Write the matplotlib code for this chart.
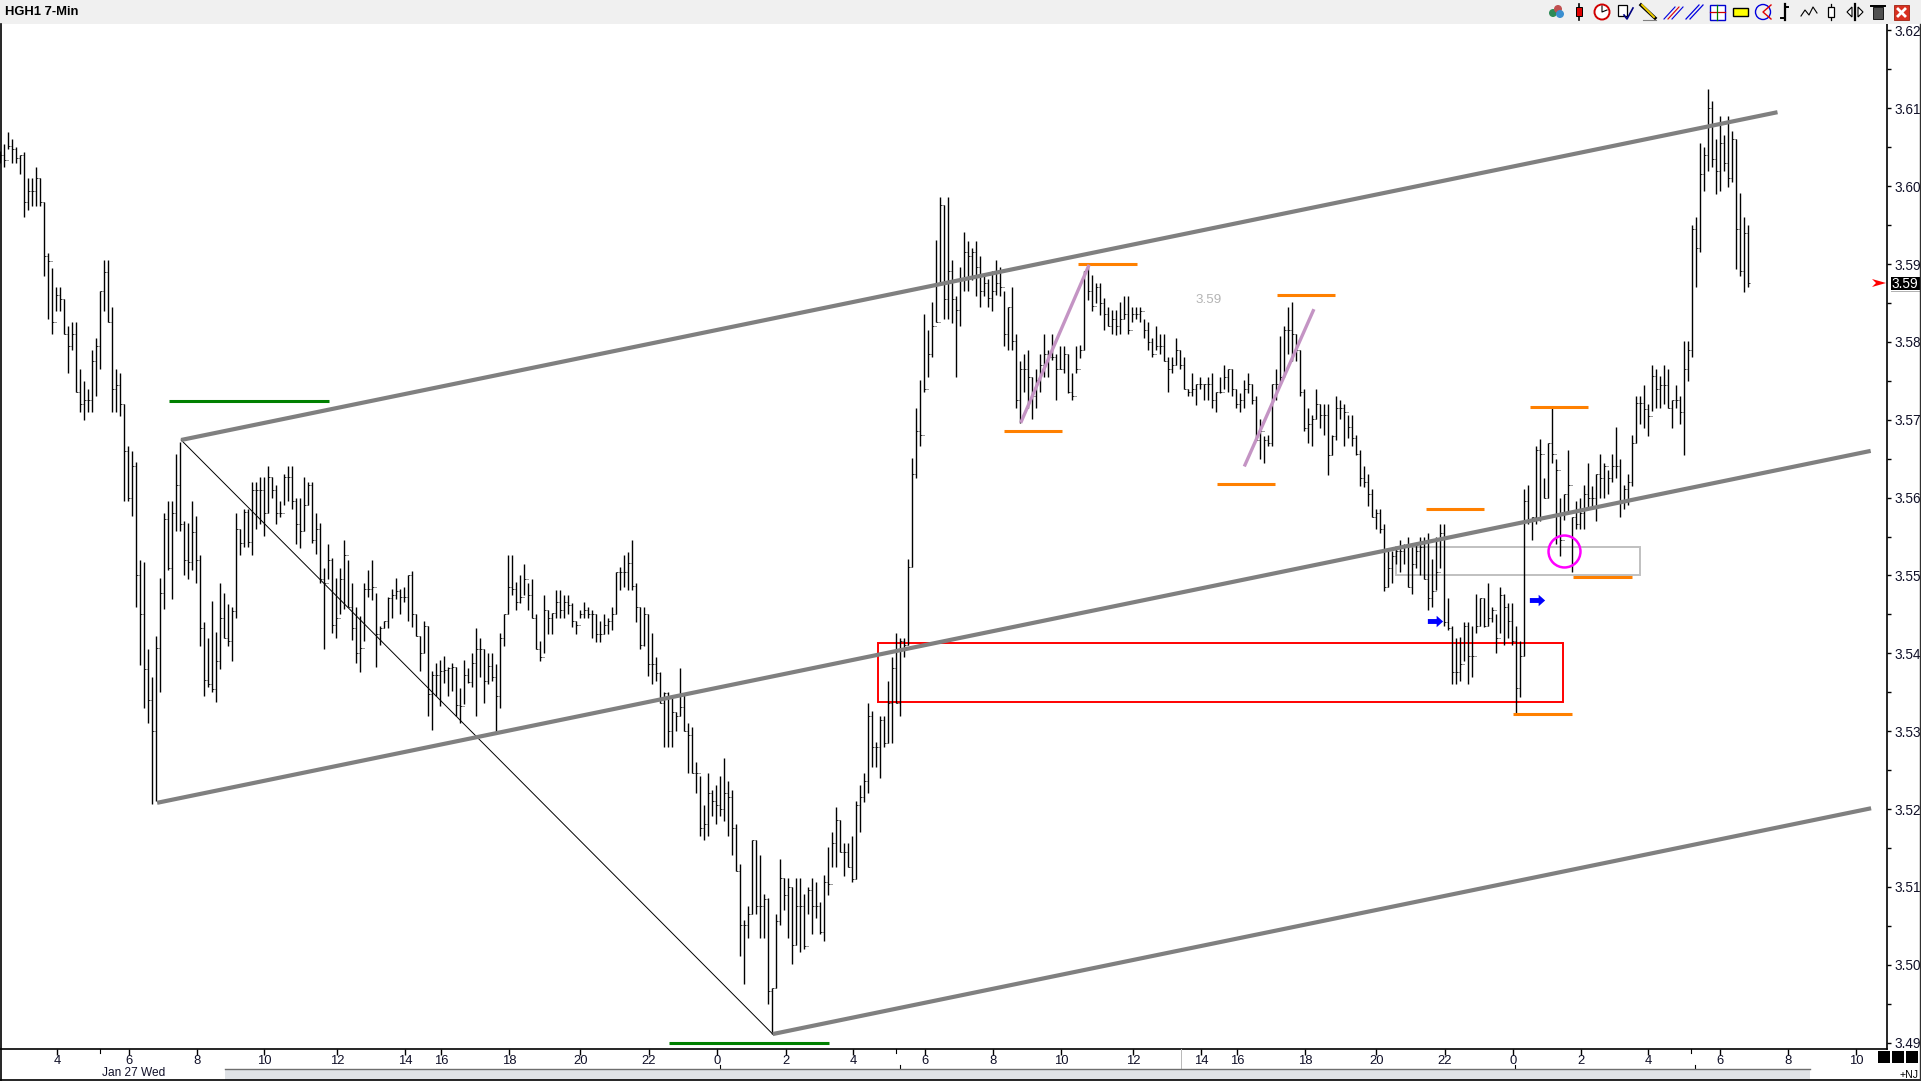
import numpy as np
import matplotlib
matplotlib.use('Agg')
from matplotlib import pyplot as plt
from matplotlib.patches import Rectangle, Circle, Polygon

plt.rcParams['font.family'] = ['Liberation Sans', 'DejaVu Sans']

# 7 minute bars
highs = [
3.6045,3.6054,3.6070,3.6060,3.6050,3.6040,3.6044,3.6010,3.6010,3.6025,3.6010,3.5980,3.5914,3.5895,3.5870,3.5870,3.5855,3.5820,3.5825,3.5825,
3.5765,3.5750,3.5740,3.5790,3.5805,3.5865,3.5905,3.5905,3.5845,3.5765,3.5760,3.5720,3.5666,3.5660,3.5646,3.5520,3.5517,3.5406,3.5370,3.5422,
3.5497,3.5580,3.5596,3.5596,3.5656,3.5672,3.5570,3.5568,3.5596,3.5576,3.5526,3.5440,3.5420,3.5467,3.5428,3.5490,3.5477,3.5463,3.5460,3.5580,
3.5560,3.5585,3.5586,3.5620,3.5620,3.5626,3.5626,3.5640,3.5626,3.5616,3.5596,3.5630,3.5641,3.5641,3.5600,3.5600,3.5626,3.5620,3.5620,3.5580,
3.5567,3.5510,3.5540,3.5523,3.5497,3.5510,3.5546,3.5520,3.5490,3.5460,3.5448,3.5490,3.5507,3.5520,3.5477,3.5435,3.5442,3.5472,3.5482,3.5497,
3.5483,3.5485,3.5501,3.5506,3.5451,3.5422,3.5441,3.5435,3.5377,3.5387,3.5391,3.5397,3.5382,3.5387,3.5382,3.5356,3.5391,3.5381,3.5401,3.5432,
3.5420,3.5405,3.5400,3.5400,3.5386,3.5426,3.5450,3.5526,3.5526,3.5492,3.5501,3.5515,3.5490,3.5495,3.5450,3.5416,3.5475,3.5456,3.5452,3.5481,
3.5481,3.5475,3.5475,3.5465,3.5441,3.5456,3.5466,3.5460,3.5456,3.5450,3.5441,3.5450,3.5446,3.5460,3.5505,3.5511,3.5526,3.5530,3.5546,3.5490,
3.5460,3.5460,3.5450,3.5426,3.5395,3.5376,3.5350,3.5350,3.5342,3.5325,3.5381,3.5346,3.5310,3.5305,3.5260,3.5242,3.5205,3.5246,3.5225,3.5231,
3.5242,3.5266,3.5236,3.5225,3.5181,3.5130,3.5057,3.5075,3.5160,3.5160,3.5141,3.5091,3.5086,3.4970,3.5065,3.5136,3.5111,3.5111,3.5100,3.5111,
3.5111,3.5091,3.5100,3.5111,3.5106,3.5081,3.5115,3.5151,3.5170,3.5202,3.5186,3.5156,3.5156,3.5166,3.5210,3.5231,3.5246,3.5336,3.5326,3.5286,
3.5320,3.5320,3.5365,3.5395,3.5426,3.5420,3.5420,3.5521,
3.5651,3.5715,3.5751,3.5836,3.5815,3.5851,3.5931,3.5986,3.5976,3.5986,3.5905,3.5859,3.5896,3.5941,3.5930,3.5920,3.5930,3.5910,3.5886,3.5881,
3.5891,3.5905,3.5896,3.5865,3.5845,3.5870,3.5810,3.5776,3.5785,3.5790,3.5755,3.5765,3.5785,3.5810,3.5790,3.5810,3.5785,3.5795,3.5795,3.5785,
3.5760,3.5795,3.5796,3.5891,3.5900,3.5886,3.5875,3.5875,3.5856,3.5845,3.5841,3.5841,3.5851,3.5859,3.5859,3.5845,3.5845,3.5845,3.5830,3.5825,
3.5805,3.5820,3.5810,3.5810,3.5780,3.5780,3.5805,3.5790,3.5780,3.5740,3.5760,3.5746,3.5755,3.5746,3.5755,3.5760,3.5736,3.5755,3.5770,3.5765,
3.5765,3.5740,3.5734,3.5751,3.5760,3.5746,3.5730,3.5701,3.5679,3.5680,3.5746,3.5765,3.5807,3.5820,3.5845,3.5851,3.5810,3.5790,3.5740,3.5715,
3.5706,3.5740,3.5720,3.5720,3.5720,3.5680,3.5730,3.5725,3.5720,3.5706,3.5706,3.5680,
3.5661,3.5641,3.5630,3.5611,3.5585,3.5585,3.5566,3.5531,3.5531,3.5536,3.5546,3.5541,3.5550,3.5536,3.5541,3.5550,3.5550,3.5555,3.5521,3.5550,
3.5566,3.5566,3.5471,3.5435,3.5420,3.5421,3.5440,3.5440,3.5435,3.5476,3.5471,3.5471,3.5490,3.5460,3.5451,3.5485,3.5476,3.5465,3.5465,3.5435,
3.5416,3.5611,3.5616,3.5575,3.5666,3.5675,3.5625,3.5670,3.5715,3.5650,3.5600,3.5605,3.5661,3.5575,3.5595,3.5600,3.5616,3.5645,3.5615,3.5630,
3.5656,3.5645,3.5635,3.5656,3.5691,3.5650,3.5616,3.5630,3.5680,3.5730,
3.5730,3.5745,3.5720,3.5770,3.5765,3.5756,3.5770,3.5765,3.5725,3.5745,3.5730,3.5801,3.5801,3.5950,3.5960,3.6055,3.6050,3.6125,3.6110,3.6060,
3.6090,3.6066,3.6090,3.6071,3.6060,3.5991,3.5960,3.5950]
lows = [
3.6030,3.6025,3.6048,3.6030,3.6030,3.6015,3.5960,3.5969,3.5975,3.5975,3.5975,3.5885,3.5830,3.5810,3.5840,3.5840,3.5810,3.5760,3.5790,3.5735,
3.5710,3.5700,3.5710,3.5710,3.5730,3.5765,3.5840,3.5825,3.5710,3.5710,3.5705,3.5595,3.5595,3.5576,3.5460,3.5385,3.5330,3.5310,3.5207,3.5210,
3.5350,3.5457,3.5507,3.5470,3.5557,3.5557,3.5500,3.5495,3.5507,3.5490,3.5410,3.5345,3.5357,3.5350,3.5338,3.5380,3.5420,3.5410,3.5390,3.5446,
3.5526,3.5537,3.5537,3.5526,3.5560,3.5566,3.5551,3.5580,3.5600,3.5566,3.5575,3.5590,3.5595,3.5585,3.5540,3.5535,3.5557,3.5590,3.5542,3.5528,
3.5490,3.5406,3.5495,3.5426,3.5420,3.5450,3.5457,3.5460,3.5417,3.5388,3.5376,3.5416,3.5472,3.5469,3.5382,3.5411,3.5432,3.5432,3.5445,3.5470,
3.5450,3.5466,3.5441,3.5434,3.5422,3.5377,3.5401,3.5320,3.5301,3.5345,3.5332,3.5362,3.5345,3.5352,3.5320,3.5311,3.5335,3.5362,3.5357,3.5320,
3.5370,3.5336,3.5361,3.5365,3.5299,3.5330,3.5410,3.5450,3.5475,3.5455,3.5465,3.5475,3.5455,3.5445,3.5405,3.5390,3.5400,3.5425,3.5425,3.5445,
3.5445,3.5445,3.5450,3.5434,3.5425,3.5446,3.5446,3.5446,3.5420,3.5414,3.5414,3.5425,3.5425,3.5430,3.5450,3.5481,3.5485,3.5481,3.5481,3.5440,
3.5405,3.5410,3.5371,3.5360,3.5365,3.5336,3.5280,3.5280,3.5280,3.5300,3.5320,3.5300,3.5246,3.5246,3.5221,3.5165,3.5160,3.5165,3.5191,3.5181,
3.5191,3.5185,3.5165,3.5141,3.5120,3.5011,3.4975,3.5035,3.5065,3.5065,3.5035,3.5035,3.4950,3.4911,3.4970,3.5051,3.5070,3.5035,3.5001,3.5026,
3.5017,3.5020,3.5065,3.5040,3.5060,3.5040,3.5030,3.5090,3.5125,3.5125,3.5145,3.5114,3.5125,3.5106,3.5110,3.5170,3.5209,3.5220,3.5254,3.5254,
3.5240,3.5280,3.5285,3.5285,3.5336,3.5320,3.5395,3.5411,
3.5511,3.5625,3.5666,3.5735,3.5755,3.5780,3.5825,3.5875,3.5829,3.5829,3.5824,3.5755,3.5820,3.5865,3.5865,3.5880,3.5859,3.5845,3.5859,3.5845,
3.5840,3.5860,3.5859,3.5795,3.5790,3.5790,3.5715,3.5696,3.5736,3.5715,3.5701,3.5715,3.5736,3.5755,3.5755,3.5777,3.5725,3.5765,3.5760,3.5734,
3.5725,3.5760,3.5779,3.5790,3.5854,3.5840,3.5850,3.5835,3.5815,3.5820,3.5810,3.5809,3.5810,3.5830,3.5810,3.5825,3.5830,3.5825,3.5805,3.5790,
3.5780,3.5790,3.5785,3.5775,3.5735,3.5760,3.5770,3.5765,3.5740,3.5730,3.5730,3.5719,3.5740,3.5725,3.5725,3.5715,3.5710,3.5734,3.5740,3.5736,
3.5730,3.5715,3.5710,3.5715,3.5734,3.5720,3.5674,3.5650,3.5645,3.5666,3.5666,3.5725,3.5746,3.5755,3.5785,3.5775,3.5775,3.5730,3.5685,3.5670,
3.5666,3.5701,3.5690,3.5680,3.5629,3.5655,3.5674,3.5701,3.5666,3.5676,3.5666,3.5655,
3.5615,3.5614,3.5589,3.5575,3.5560,3.5555,3.5480,3.5485,3.5490,3.5515,3.5505,3.5515,3.5485,3.5476,3.5510,3.5500,3.5495,3.5456,3.5460,3.5481,
3.5510,3.5435,3.5430,3.5360,3.5360,3.5365,3.5390,3.5360,3.5370,3.5426,3.5435,3.5434,3.5435,3.5440,3.5400,3.5426,3.5411,3.5420,3.5411,3.5321,
3.5344,3.5396,3.5566,3.5545,3.5566,3.5570,3.5600,3.5600,3.5645,3.5541,3.5525,3.5571,3.5580,3.5505,3.5560,3.5560,3.5560,3.5586,3.5586,3.5570,
3.5600,3.5600,3.5605,3.5620,3.5625,3.5575,3.5585,3.5590,3.5615,3.5670,
3.5695,3.5690,3.5679,3.5711,3.5715,3.5715,3.5720,3.5715,3.5690,3.5715,3.5695,3.5655,3.5750,3.5780,3.5870,3.5915,3.5994,3.6020,3.6025,3.5990,
3.5994,3.6020,3.5999,3.6005,3.5894,3.5885,3.5864,3.5870]
closes = [
3.6040,3.6034,3.6052,3.6048,3.6036,3.6040,3.5980,3.5994,3.5994,3.6010,3.5980,3.5910,3.5904,3.5825,3.5860,3.5855,3.5810,3.5795,3.5810,3.5735,
3.5720,3.5725,3.5725,3.5775,3.5795,3.5865,3.5890,3.5825,3.5740,3.5745,3.5720,3.5660,3.5600,3.5640,3.5500,3.5450,3.5380,3.5340,3.5300,3.5407,
3.5478,3.5572,3.5510,3.5580,3.5616,3.5566,3.5520,3.5517,3.5556,3.5520,3.5432,3.5366,3.5360,3.5354,3.5390,3.5446,3.5420,3.5416,3.5454,3.5560,
3.5542,3.5582,3.5543,3.5610,3.5610,3.5610,3.5580,3.5626,3.5610,3.5580,3.5580,3.5626,3.5626,3.5596,3.5566,3.5557,3.5590,3.5616,3.5546,3.5560,
3.5495,3.5490,3.5520,3.5436,3.5445,3.5495,3.5526,3.5460,3.5433,3.5401,3.5407,3.5482,3.5482,3.5485,3.5425,3.5433,3.5441,3.5471,3.5475,3.5480,
3.5472,3.5472,3.5500,3.5451,3.5422,3.5401,3.5435,3.5348,3.5372,3.5372,3.5377,3.5378,3.5381,3.5382,3.5333,3.5332,3.5372,3.5363,3.5387,3.5406,
3.5405,3.5365,3.5384,3.5370,3.5345,3.5420,3.5450,3.5485,3.5483,3.5466,3.5472,3.5496,3.5475,3.5445,3.5405,3.5395,3.5456,3.5446,3.5452,3.5466,
3.5456,3.5466,3.5462,3.5441,3.5436,3.5450,3.5455,3.5450,3.5450,3.5425,3.5425,3.5436,3.5441,3.5450,3.5505,3.5505,3.5505,3.5516,3.5487,3.5460,
3.5411,3.5450,3.5386,3.5386,3.5375,3.5336,3.5349,3.5300,3.5325,3.5320,3.5331,3.5300,3.5295,3.5246,3.5246,3.5176,3.5181,3.5221,3.5210,3.5205,
3.5200,3.5221,3.5216,3.5176,3.5120,3.5051,3.5051,3.5065,3.5160,3.5075,3.5075,3.5085,3.4966,3.4970,3.5056,3.5111,3.5090,3.5100,3.5026,3.5075,
3.5075,3.5024,3.5096,3.5075,3.5075,3.5042,3.5106,3.5104,3.5156,3.5186,3.5145,3.5145,3.5126,3.5110,3.5205,3.5215,3.5236,3.5320,3.5280,3.5280,
3.5315,3.5285,3.5336,3.5381,3.5336,3.5416,3.5411,3.5511,
3.5630,3.5685,3.5681,3.5740,3.5785,3.5820,3.5825,3.5976,3.5855,3.5891,3.5855,3.5841,3.5880,3.5916,3.5910,3.5916,3.5896,3.5865,3.5875,3.5856,
3.5865,3.5875,3.5870,3.5810,3.5845,3.5801,3.5725,3.5765,3.5765,3.5755,3.5730,3.5751,3.5770,3.5785,3.5781,3.5781,3.5765,3.5765,3.5785,3.5736,
3.5730,3.5765,3.5790,3.5891,3.5865,3.5846,3.5871,3.5850,3.5836,3.5820,3.5830,3.5820,3.5830,3.5836,3.5815,3.5836,3.5836,3.5840,3.5815,3.5800,
3.5785,3.5795,3.5795,3.5775,3.5765,3.5770,3.5790,3.5770,3.5740,3.5735,3.5740,3.5746,3.5746,3.5746,3.5746,3.5725,3.5736,3.5736,3.5755,3.5765,
3.5740,3.5720,3.5725,3.5740,3.5746,3.5725,3.5674,3.5685,3.5674,3.5670,3.5746,3.5746,3.5755,3.5815,3.5815,3.5810,3.5790,3.5736,3.5689,3.5695,
3.5701,3.5720,3.5706,3.5706,3.5655,3.5679,3.5715,3.5715,3.5710,3.5691,3.5676,3.5656,
3.5625,3.5620,3.5605,3.5575,3.5580,3.5560,3.5485,3.5510,3.5525,3.5531,3.5531,3.5536,3.5485,3.5515,3.5531,3.5536,3.5495,3.5471,3.5480,3.5505,
3.5555,3.5440,3.5432,3.5376,3.5376,3.5386,3.5435,3.5396,3.5396,3.5435,3.5471,3.5435,3.5446,3.5456,3.5420,3.5475,3.5460,3.5441,3.5416,3.5355,
3.5396,3.5595,3.5571,3.5575,3.5661,3.5656,3.5600,3.5670,3.5656,3.5635,3.5545,3.5605,3.5616,3.5575,3.5566,3.5580,3.5605,3.5600,3.5600,3.5630,
3.5625,3.5640,3.5625,3.5640,3.5640,3.5595,3.5611,3.5620,3.5670,3.5721,
3.5721,3.5714,3.5705,3.5756,3.5740,3.5745,3.5745,3.5715,3.5725,3.5725,3.5710,3.5765,3.5790,3.5945,3.5920,3.6015,3.6040,3.6100,3.6035,3.6020,
3.6055,3.6030,3.6010,3.6060,3.5945,3.5891,3.5940,3.5875]

# axis labels
hour_pos = [14.2,32.2,49.2,66,84.2,101.2,110.2,127.2,145,162.2,179.2,196.4,213.2,231.2,
            248.2,265.2,283.2,300.2,309.2,326.2,344,361.2,378.2,395.2,412,430,447,464]
hour_labels = ['4','6','8','10','12','14','16','18','20','22','0','2','4','6',
               '8','10','12','14','16','18','20','22','0','2','4','6','8','10']
price_ticks = [3.49,3.50,3.51,3.52,3.53,3.54,3.55,3.56,3.57,3.58,3.59,3.60,3.61,3.62]
price_minor = [3.495,3.505,3.515,3.525,3.535,3.545,3.555,3.565,3.575,3.585,3.595,3.605,3.615]

# drawings on the chart, as (bar, price)
channel_lines = [((45.2, 444.3), (3.5674, 3.6095)),
                 ((39.2, 467.6), (3.5208, 3.5660)),
                 ((193.1, 467.7), (3.4911, 3.5201))]
thin_line = ((45.2, 193.1), (3.5674, 3.4911))
green_lines = [(42.2, 82.2, 3.5724), (167.1, 207.2, 3.4900)]
orange_lines = [(269.5, 284.1, 3.5900), (251, 265.5, 3.5685), (319.2, 333.7, 3.5860),
                (304.2, 318.7, 3.5617), (382.5, 397, 3.5716), (356.5, 371, 3.5586),
                (393.2, 407.8, 3.5498), (378.2, 392.8, 3.5322)]
mauve_lines = [((255.1, 272.2), (3.5696, 3.5899)), ((311, 328.4), (3.5640, 3.5842))]
red_box = (219.3, 390.7, 3.5338, 3.5413)
grey_box = (348.8, 409.9, 3.5501, 3.5537)
circle_at = (390.9, 3.5531)
blue_arrows = [(358.7, 3.5442), (384.2, 3.5469)]
last_price = 3.5875

W, H = 1921, 1081
fig = plt.figure(figsize=(W / 100, H / 100), dpi=100, facecolor='white')
ax = fig.add_axes([0, (H - 1049) / H, 1887.3 / W, (1049 - 24) / H])
ax.set_xlim(-0.08, 471.75)
ax.set_ylim(3.61 - (1049 - 108.3) / 7786, 3.61 + (108.3 - 24) / 7786)

x = np.arange(len(highs))
opens = [closes[0]] + closes[:-1]

# boxes first, the bars sit on top of them
l, r, b, t = grey_box
ax.add_patch(Rectangle((l, b), r - l, t - b, fill=False, ec='#c0c0c0', lw=1.4, zorder=1))
ax.vlines(x, lows, highs, colors='black', lw=1.0, zorder=3)
ax.hlines(closes, x, x + 0.3, colors='black', lw=0.55, zorder=3)
ax.hlines(opens, x - 0.3, x, colors='black', lw=0.55, zorder=3)

for xs, ys in channel_lines:
    ax.plot(xs, ys, color='#808080', lw=3.0, solid_capstyle='butt', zorder=4)
ax.plot(thin_line[0], thin_line[1], color='black', lw=0.7, zorder=2)
for x0, x1, y in green_lines:
    ax.plot([x0, x1], [y, y], color='#008000', lw=2.2, solid_capstyle='butt', zorder=4)
for x0, x1, y in orange_lines:
    ax.plot([x0, x1], [y, y], color='#ff8000', lw=2.2, solid_capstyle='butt', zorder=4)
for xs, ys in mauve_lines:
    ax.plot(xs, ys, color='#c494c4', lw=2.4, solid_capstyle='butt', zorder=4)
l, r, b, t = red_box
ax.add_patch(Rectangle((l, b), r - l, t - b, fill=False, ec='#ff0000', lw=1.4, zorder=2))
ax.plot(*circle_at, marker='o', ms=23, mfc='none', mec='#ff00ff', mew=1.8, zorder=5)

arrow = [(-1, -.32), (.15, -.32), (.15, -.75), (1, 0), (.15, .75), (.15, .32), (-1, .32)]
for bx, by in blue_arrows:
    ax.plot(bx, by, marker=arrow, ms=11, color='#0000ff', mew=0, zorder=5)
ax.text(302.2, 3.5854, '3.59', color='#b4b4b4', fontsize=9.6, ha='center', va='center')

for s in ['top', 'left']:
    ax.spines[s].set_visible(False)
ax.spines['right'].set_linewidth(1.2)
ax.spines['bottom'].set_linewidth(1.2)
ax.yaxis.tick_right()
ax.set_yticks(price_ticks, ['%.2f' % p for p in price_ticks])
ax.set_yticks(price_minor, minor=True)
ax.set_xticks(hour_pos, hour_labels)
ax.tick_params(axis='y', which='major', length=3, width=1, pad=2, labelsize=9.8, labelcolor='#101028')
ax.tick_params(axis='y', which='minor', length=3, width=1)
ax.tick_params(axis='x', length=4, width=1, pad=0.5, labelsize=9.4, labelcolor='#101028')

# window chrome in pixel coordinates
ov = fig.add_axes([0, 0, 1, 1], zorder=10)
ov.set_xlim(0, W)
ov.set_ylim(H, 0)
ov.axis('off')
ov.patch.set_alpha(0)

ov.add_patch(Rectangle((0, 0), W, 24, fc='#f0f0f0', ec='none', zorder=1))
ov.text(5, 12, 'HGH1 7-Min', fontsize=9.4, fontweight='bold', color='black', va='center', zorder=2)

# toolbar icons
ov.add_patch(Circle((1553, 13), 4, fc='#2e8b57', zorder=2))
ov.add_patch(Circle((1558, 9), 4, fc='#c05050', zorder=2))
ov.add_patch(Circle((1560, 14), 4, fc='#3a8fd0', zorder=2))
ov.plot([1579, 1579], [4, 20], color='black', lw=1.2, zorder=2)
ov.add_patch(Rectangle((1576, 7), 5.5, 9, fc='#e00000', ec='black', lw=0.7, zorder=3))
ov.add_patch(Circle((1602, 12), 7.5, fc='white', ec='#d00000', lw=1.4, zorder=2))
ov.plot([1602, 1602, 1607], [6, 12, 10], color='black', lw=0.8, zorder=3)
ov.add_patch(Rectangle((1618, 5), 9, 11, fc='white', ec='black', lw=0.9, zorder=2))
ov.plot([1624, 1627, 1633], [15, 19, 8], color='#000080', lw=1.2, zorder=3)
ov.plot([1641, 1655], [5, 18], color='black', lw=2.4, zorder=2)
ov.plot([1642, 1654], [5, 17], color='#f0d000', lw=1.4, zorder=3)
ov.plot([1643, 1656], [20, 20], color='#808080', lw=0.8, zorder=2)
for dx, col in [(0, '#0000e0'), (4, '#e00000'), (8, '#0000e0')]:
    ov.plot([1664 + dx, 1675 + dx], [19, 7], color=col, lw=0.8, zorder=2)
ov.plot([1686, 1699], [19, 5], color='#0000e0', lw=0.9, zorder=2)
ov.plot([1690, 1703], [19, 5], color='#0000e0', lw=0.9, zorder=2)
ov.add_patch(Rectangle((1710, 5), 15, 15, fc='white', ec='#0000d0', lw=1, zorder=2))
ov.plot([1710, 1725], [12, 12], color='#d00000', lw=0.9, zorder=3)
ov.plot([1717, 1717], [5, 20], color='#008000', lw=0.9, zorder=3)
ov.add_patch(Rectangle((1733, 8), 15, 8, fc='#ffff00', ec='black', lw=1, zorder=2))
ov.add_patch(Circle((1763, 12), 7.5, fc='none', ec='#0000e0', lw=1, zorder=2))
ov.plot([1771, 1763, 1771], [5, 12, 19], color='#e00000', lw=1, zorder=3)
ov.plot([1785, 1785], [4, 20], color='black', lw=1.6, zorder=2)
ov.plot([1781, 1785], [18, 18], color='black', lw=1.4, zorder=2)
ov.plot([1785, 1788], [7, 7], color='black', lw=1.4, zorder=2)
ov.plot([1801, 1805, 1809, 1813, 1817], [16, 10, 15, 7, 13], color='black', lw=0.8, zorder=2)
ov.add_patch(Rectangle((1828, 7), 6, 10, fc='white', ec='black', lw=0.9, zorder=2))
ov.plot([1831, 1831], [4, 20], color='black', lw=0.9, zorder=1.5)
ov.plot([1855, 1855], [4, 20], color='black', lw=1.6, zorder=2)
ov.add_patch(Polygon([(1852, 7), (1847, 12), (1852, 17)], fc='white', ec='black', lw=0.8, zorder=2))
ov.add_patch(Polygon([(1858, 7), (1863, 12), (1858, 17)], fc='white', ec='black', lw=0.8, zorder=2))
ov.add_patch(Rectangle((1873, 7), 10, 12, fc='#505050', ec='black', lw=0.6, zorder=2))
ov.plot([1871, 1885], [6, 6], color='black', lw=1.4, zorder=2)
ov.add_patch(Rectangle((1894, 5), 15, 15, fc='#d83020', ec='#a02010', lw=0.6, zorder=2))
ov.plot([1898, 1905], [9, 16], color='white', lw=2, zorder=3)
ov.plot([1905, 1898], [9, 16], color='white', lw=2, zorder=3)

# price flag on the right
ov.add_patch(Polygon([(1872, 279), (1886, 283), (1872, 287), (1876, 283)], fc='#ff0000', ec='none', zorder=2))
ov.add_patch(Rectangle((1890.5, 276.5), 29, 13.5, fc='black', ec='none', zorder=2))
ov.plot([1890.5, 1919], [290.5, 290.5], color='#b0b0b0', lw=0.7, zorder=2)
ov.text(1905, 283.5, '3.59', color='white', fontsize=9.8, ha='center', va='center', zorder=3)

# date row, scrollbar covers most of it
for tx, lbl in [(738, 'Jan 28 Thu'), (921, 'Jan 28 Thu'), (1537, 'Jan 29 Fri'), (1717, 'Jan 29 Fri')]:
    ov.text(tx, 1074.5, lbl, fontsize=8.6, color='#101028', va='center', zorder=1)
for tx in [720, 900, 1515, 1695]:
    ov.plot([tx, tx], [1065, 1069], color='black', lw=0.8, zorder=1)
ov.text(134, 1073.5, 'Jan 27 Wed', fontsize=8.6, color='#101028', ha='center', va='center', zorder=2)
for tx in [100, 896, 1691]:
    ov.plot([tx, tx], [1049, 1053], color='black', lw=0.8, zorder=1)
ov.plot([1181, 1181], [1049, 1069], color='#b8b8b8', lw=0.7, zorder=1)
ov.add_patch(Rectangle((225, 1069), 1585, 11, fc='#dfe2e6', ec='none', zorder=3))
ov.plot([225, 1810], [1069, 1069], color='#6e6e6e', lw=1, zorder=4)
for sx in [1878, 1892, 1906]:
    ov.add_patch(Rectangle((sx, 1051), 12, 12, fc='black', ec='none', zorder=2))
ov.text(1919, 1074.5, '+NJ', fontsize=7.6, color='black', ha='right', va='center', zorder=2)

# outer frame
ov.plot([0.7, 0.7], [24, 1080], color='black', lw=1.2, zorder=5)
ov.plot([0, W], [1080, 1080], color='black', lw=1.2, zorder=5)
ov.plot([1919.7, 1919.7], [24, 1080], color='#303030', lw=1, zorder=5)

fig.savefig('out.png', dpi=100)
plt.close()
